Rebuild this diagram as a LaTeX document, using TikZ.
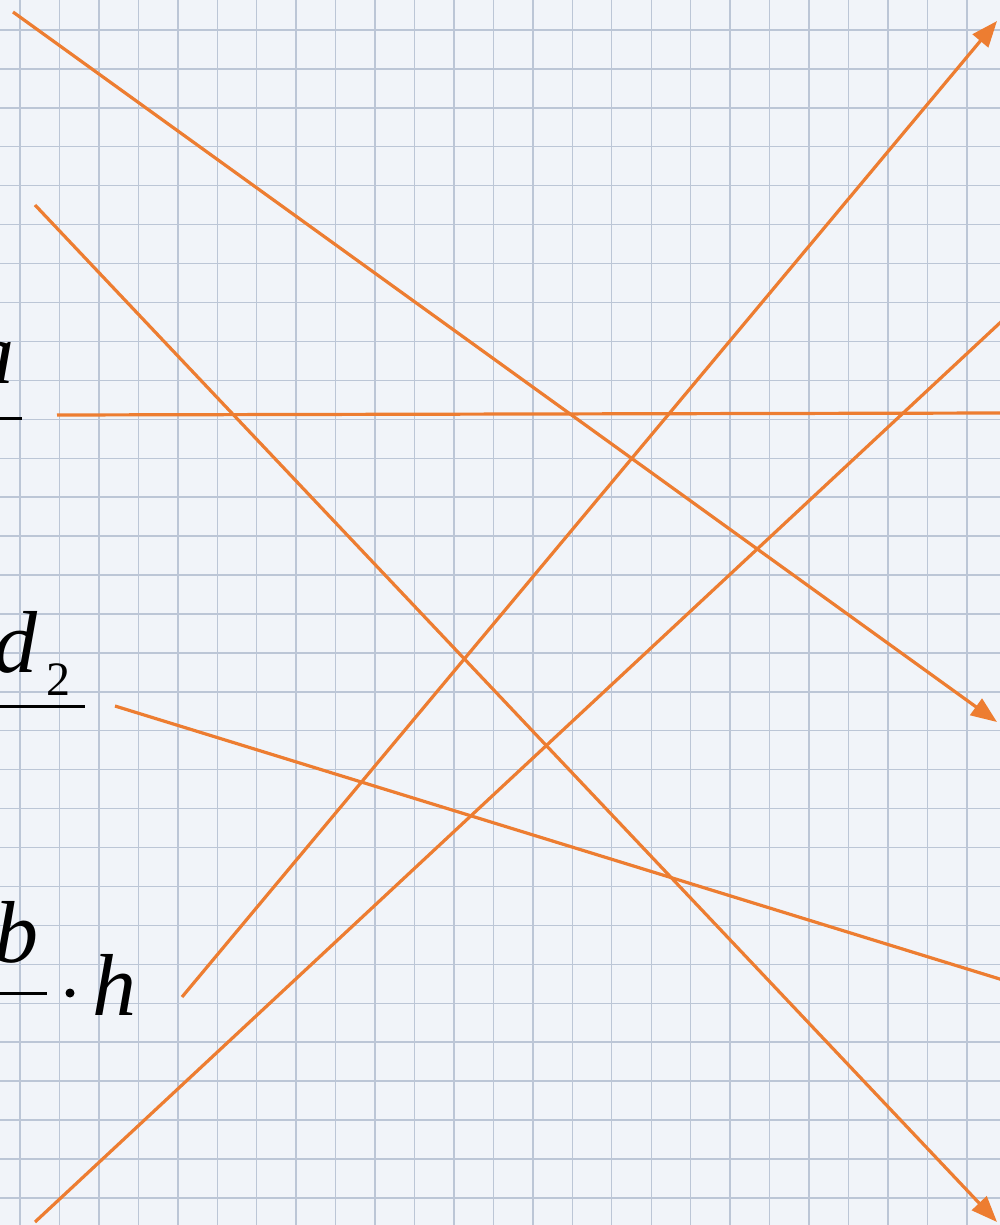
\documentclass[tikz,border=0pt]{standalone}
\usepackage{fontspec}
\setmainfont{Liberation Serif}
\usetikzlibrary{arrows.meta}
\definecolor{paper}{HTML}{F1F4F9}
\definecolor{gridc}{HTML}{BCC6D6}
\definecolor{pen}{HTML}{ED7D31}
\tikzset{
  gridline/.style={draw=gridc, line width=0.7pt},
  penline/.style={draw=pen, line width=1.6pt},
  penarrow/.style={penline, -{Triangle[length=13pt,width=10pt]}},
  fracbar/.style={draw=black, line width=1.5pt},
  bigletter/.style={inner sep=0pt, font=\fontsize{44pt}{50pt}\selectfont\itshape},
  smalldigit/.style={inner sep=0pt, font=\fontsize{24pt}{28pt}\selectfont}
}
\begin{document}
\begin{tikzpicture}[x=0.5pt,y=-0.5pt]
\useasboundingbox (0,0) rectangle (1000,1225);
\clip (0,0) rectangle (1000,1225);
\fill[paper] (0,0) rectangle (1000,1225);
\foreach \k in {0,...,24} \draw[gridline] ({20+39.45*\k},0) -- ({20+39.45*\k},1225);
\foreach \k in {0,...,30} \draw[gridline] (0,{30+38.93*\k}) -- (1000,{30+38.93*\k});

% formula fragments at the left edge
\node[bigletter, anchor=base east] (ta) at (15,383) {a};
\draw[fracbar] (-5,418) -- (22,418);
\node[bigletter, anchor=base east] (td) at (38,672) {d};
\node[smalldigit, anchor=base west] (t2) at (46,695) {2};
\draw[fracbar] (-5,706) -- (85,706);
\node[bigletter, anchor=base east] (tb) at (39,962) {b};
\draw[fracbar] (-5,993) -- (47,993);
\fill[black] (70,993) circle (4.5);
\node[bigletter, anchor=base west] (th) at (92,1015) {h};

% line end points
\coordinate (l1s) at (13,12);   \coordinate (l1e) at (997,722);
\coordinate (l2s) at (35,205);  \coordinate (l2e) at (997,1222);
\coordinate (l3s) at (57,415);  \coordinate (l3e) at (1003,413);
\coordinate (l4s) at (182,997); \coordinate (l4e) at (997,21);
\coordinate (l5s) at (35,1222); \coordinate (l5e) at (1003,320);
\coordinate (l6s) at (115,706); \coordinate (l6e) at (1003,980);

\draw[penarrow] (l1s) -- (l1e);
\draw[penarrow] (l2s) -- (l2e);
\draw[penline] (l3s) -- (l3e);
\draw[penarrow] (l4s) -- (l4e);
\draw[penline] (l5s) -- (l5e);
\draw[penline] (l6s) -- (l6e);
\end{tikzpicture}
\end{document}
